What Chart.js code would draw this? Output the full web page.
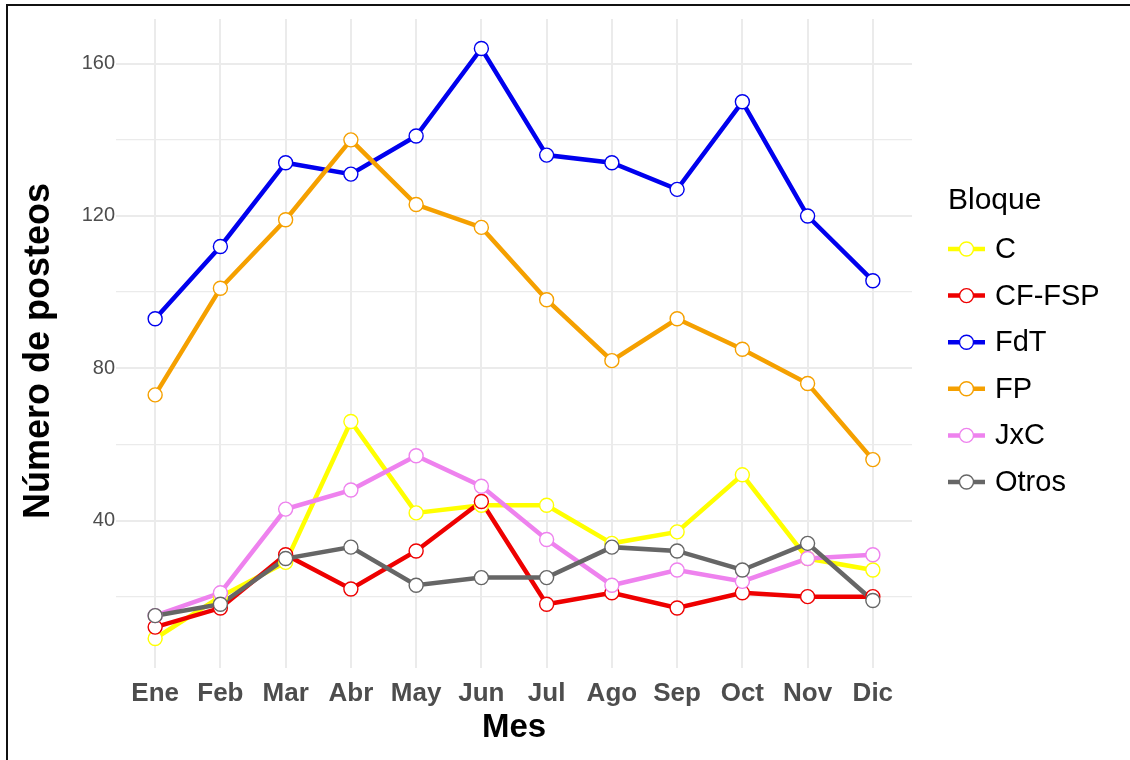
<!DOCTYPE html>
<html>
<head>
<meta charset="utf-8">
<script src="https://cdn.jsdelivr.net/npm/chart.js@4.4.1/dist/chart.umd.min.js"></script>
<style>
  html, body { margin: 0; padding: 0; background: #fff; overflow: hidden; }
  #wrap { position: relative; width: 1130px; height: 760px; }
  #frame { position: absolute; left: 6px; top: 4px; width: 1200px; height: 800px; border: 2px solid #111; box-sizing: border-box; pointer-events: none; }
  canvas { position: absolute; left: 0; top: 0; }
</style>
</head>
<body>
<div id="wrap">
  <canvas id="c" width="1130" height="760"></canvas>
  <div id="frame"></div>
</div>
<script>
const months = ['Ene','Feb','Mar','Abr','May','Jun','Jul','Ago','Sep','Oct','Nov','Dic'];
const seriesNames = ['C','CF-FSP','FdT','FP','JxC','Otros'];
const valuesC     = [9, 20, 29, 66, 42, 44, 44, 34, 37, 52, 30, 27];
const valuesCF    = [12, 17, 31, 22, 32, 45, 18, 21, 17, 21, 20, 20];
const valuesFdT   = [93, 112, 134, 131, 141, 164, 136, 134, 127, 150, 120, 103];
const valuesFP    = [73, 101, 119, 140, 123, 117, 98, 82, 93, 85, 76, 56];
const valuesJxC   = [15, 21, 43, 48, 57, 49, 35, 23, 27, 24, 30, 31];
const valuesOtros = [15, 18, 30, 33, 23, 25, 25, 33, 32, 27, 34, 19];
const yTicks = [20, 40, 60, 80, 100, 120, 140, 160];
const yLabelTicks = [40, 80, 120, 160];

const seriesValues = [valuesC, valuesCF, valuesFdT, valuesFP, valuesJxC, valuesOtros];
const colors = ['#FFFF00', '#EE0000', '#0000EE', '#F5A000', '#EE82EE', '#666666'];

const FONT = "'Liberation Sans', Arial, sans-serif";

const datasets = [];
seriesValues.forEach((vals, i) => {
  datasets.push({
    label: seriesNames[i],
    data: vals.map((v, k) => ({x: k, y: v})),
    borderColor: colors[i],
    borderWidth: 4.5,
    pointRadius: 0,
    fill: false,
    tension: 0,
    order: 20 - i
  });
});
seriesValues.forEach((vals, i) => {
  datasets.push({
    label: seriesNames[i] + '_pts',
    data: vals.map((v, k) => ({x: k, y: v})),
    showLine: false,
    borderColor: colors[i],
    backgroundColor: '#ffffff',
    pointRadius: 7,
    pointBorderWidth: 1.4,
    pointHoverRadius: 7,
    order: 10 - i
  });
});

const PLOT = {left: 116, top: 19, right: 912, bottom: 668};

const extras = {
  id: 'extras',
  afterDraw(chart) {
    const ctx = chart.ctx;
    ctx.save();
    // axis titles
    ctx.fillStyle = '#000';
    ctx.font = 'bold 33px ' + FONT;
    ctx.textAlign = 'center';
    ctx.textBaseline = 'middle';
    ctx.fillText('Mes', (PLOT.left + PLOT.right) / 2, 728);
    ctx.save();
    ctx.translate(39, 351);
    ctx.rotate(-Math.PI / 2);
    ctx.font = 'bold 36px ' + FONT;
    ctx.fillText('Número de posteos', 0, 0);
    ctx.restore();
    // legend
    const lx = 948, titleY = 201, firstY = 249, step = 46.6;
    ctx.textAlign = 'left';
    ctx.font = '30px ' + FONT;
    ctx.fillStyle = '#000';
    ctx.fillText('Bloque', lx, titleY);
    ctx.font = '29px ' + FONT;
    seriesNames.forEach((name, i) => {
      const y = firstY + i * step;
      ctx.strokeStyle = colors[i];
      ctx.lineWidth = 4.5;
      ctx.beginPath();
      ctx.moveTo(lx, y);
      ctx.lineTo(lx + 37, y);
      ctx.stroke();
      ctx.beginPath();
      ctx.arc(lx + 18.5, y, 7, 0, Math.PI * 2);
      ctx.fillStyle = '#fff';
      ctx.fill();
      ctx.lineWidth = 1.4;
      ctx.stroke();
      ctx.fillStyle = '#000';
      ctx.fillText(name, lx + 47, y + 1);
    });
    ctx.restore();
  }
};

new Chart(document.getElementById('c'), {
  type: 'line',
  data: { datasets },
  plugins: [extras],
  options: {
    responsive: false,
    animation: false,
    events: [],
    layout: { padding: { left: 0, top: PLOT.top, right: 1130 - PLOT.right, bottom: 0 } },
    plugins: { legend: { display: false }, tooltip: { enabled: false } },
    scales: {
      x: {
        type: 'linear',
        min: -0.6,
        max: 11.6,
        afterBuildTicks(scale) { scale.ticks = months.map((m, i) => ({value: i})); },
        afterFit(scale) { scale.height = 760 - PLOT.bottom; },
        ticks: {
          autoSkip: false,
          maxRotation: 0,
          padding: 10,
          color: '#4D4D4D',
          font: { family: FONT, size: 26, weight: 'bold' },
          callback: (v) => months[v]
        },
        grid: { color: '#EBEBEB', lineWidth: 2, drawTicks: false },
        border: { display: false }
      },
      y: {
        type: 'linear',
        min: 1.25,
        max: 171.75,
        afterBuildTicks(scale) { scale.ticks = yTicks.map(v => ({value: v})); },
        afterFit(scale) { scale.width = PLOT.left; },
        ticks: {
          padding: 1,
          color: '#4D4D4D',
          font: { family: FONT, size: 20 },
          callback: (v) => yLabelTicks.includes(v) ? String(v) : ''
        },
        grid: {
          color: '#EBEBEB',
          drawTicks: false,
          lineWidth: (c) => (c.tick && yLabelTicks.includes(c.tick.value)) ? 2 : 1.3
        },
        border: { display: false }
      }
    }
  }
});
</script>
</body>
</html>
